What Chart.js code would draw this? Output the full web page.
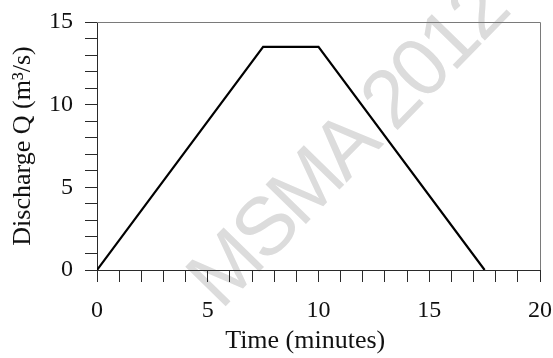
<!DOCTYPE html>
<html>
<head>
<meta charset="utf-8">
<script src="https://cdn.jsdelivr.net/npm/chart.js@4/dist/chart.umd.min.js"></script>
<style>
  html, body { margin: 0; padding: 0; background: #ffffff; }
  #wrap { width: 553px; height: 358px; }
</style>
</head>
<body>
<div id="wrap"><canvas id="hydro" width="553" height="358"></canvas></div>
<script>
// Trapezoidal hydrograph: time (minutes) vs discharge Q (m³/s)
const timeMin   = [0, 7.5, 10, 17.5];
const discharge = [0, 13.5, 13.5, 0];

// Axis ranges and labelled ticks
const xTickLabels = [0, 5, 10, 15, 20];
const yTickLabels = [0, 5, 10, 15];
const xTitle = 'Time (minutes)';
const yTitle = 'Discharge Q (m³/s)';
const watermarkText = 'MSMA 2012';

const points = timeMin.map((t, i) => ({ x: t, y: discharge[i] }));

const serif = '"Liberation Serif", "Times New Roman", serif';
const axisInk = '#2a2a2a';
const frameInk = '#7a7a7a';

// Faint diagonal stamp behind the plot
const watermark = {
  id: 'watermark',
  beforeDraw(chart) {
    const ctx = chart.ctx;
    ctx.save();
    ctx.translate(221, 311);
    ctx.rotate(-45.7 * Math.PI / 180);
    ctx.font = '82px "Liberation Sans", Arial, sans-serif';
    if ('letterSpacing' in ctx) ctx.letterSpacing = '-4px';
    ctx.fillStyle = '#dcdcdc';
    ctx.textAlign = 'left';
    ctx.textBaseline = 'alphabetic';
    ctx.fillText(watermarkText, 0, 0);
    ctx.restore();
  }
};

// Light frame on the top and right of the plot area, plus the time-axis title
const frame = {
  id: 'frame',
  afterDraw(chart) {
    const { left, right, top, bottom } = chart.chartArea;
    const ctx = chart.ctx;
    ctx.save();
    ctx.strokeStyle = frameInk;
    ctx.lineWidth = 1;
    ctx.beginPath();
    ctx.moveTo(left, top + 0.5);
    ctx.lineTo(right + 0.5, top + 0.5);
    ctx.lineTo(right + 0.5, bottom);
    ctx.stroke();

    ctx.fillStyle = '#111111';
    ctx.font = '26px ' + serif;
    ctx.textAlign = 'center';
    ctx.textBaseline = 'alphabetic';
    ctx.fillText(xTitle, left + (right - left) * 0.47, 348);
    ctx.restore();
  }
};

Chart.defaults.font.family = serif;
Chart.defaults.color = '#111111';

new Chart(document.getElementById('hydro'), {
  type: 'line',
  data: {
    datasets: [{
      data: points,
      borderColor: '#000000',
      borderWidth: 2.2,
      pointRadius: 0,
      tension: 0,
      fill: false
    }]
  },
  options: {
    responsive: false,
    animation: false,
    layout: { padding: { top: 22, right: 13, left: 0, bottom: 0 } },
    plugins: { legend: { display: false }, tooltip: { enabled: false } },
    scales: {
      x: {
        type: 'linear',
        min: xTickLabels[0],
        max: xTickLabels[xTickLabels.length - 1],
        afterFit(scale) {
          scale.height = 88;
          scale.paddingLeft = 0;
          scale.paddingRight = 0;
        },
        border: { display: true, color: axisInk, width: 1 },
        grid: { drawOnChartArea: false, drawTicks: true, tickLength: 12, color: axisInk },
        ticks: {
          stepSize: 1,
          autoSkip: false,
          maxRotation: 0,
          padding: 14,
          font: { size: 24 },
          callback: v => (xTickLabels.includes(v) ? String(v) : '')
        },
        title: { display: false }
      },
      y: {
        type: 'linear',
        min: yTickLabels[0],
        max: yTickLabels[yTickLabels.length - 1],
        afterFit(scale) {
          scale.width = 97;
          scale.paddingTop = 0;
          scale.paddingBottom = 0;
        },
        border: { display: true, color: axisInk, width: 1 },
        grid: { drawOnChartArea: false, drawTicks: true, tickLength: 12, color: axisInk },
        ticks: {
          stepSize: 1,
          autoSkip: false,
          padding: 12,
          font: { size: 24 },
          callback: v => (yTickLabels.includes(v) ? String(v) : '')
        },
        title: {
          display: true,
          text: yTitle,
          font: { size: 26 },
          padding: { top: 8, bottom: 0 }
        }
      }
    }
  },
  plugins: [watermark, frame]
});
</script>
</body>
</html>
